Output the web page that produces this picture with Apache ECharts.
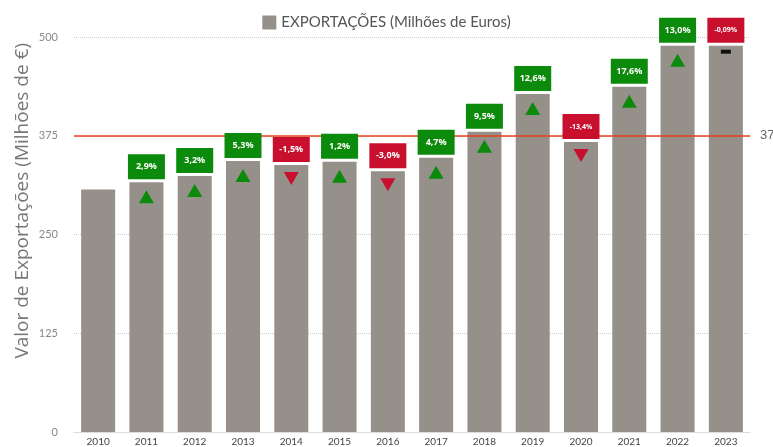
<!DOCTYPE html>
<html>
<head>
<meta charset="utf-8">
<script src="https://cdn.jsdelivr.net/npm/echarts@6/dist/echarts.min.js"></script>
<style>
  html, body { margin: 0; padding: 0; background: #fff; }
  #main { width: 773px; height: 447px; }
</style>
</head>
<body>
<div id="main"></div>
<script>
// data
var years = ['2010', '2011', '2012', '2013', '2014', '2015', '2016', '2017', '2018', '2019', '2020', '2021', '2022', '2023'];
var exportValues = [307, 316, 324, 343, 338, 342, 330, 347, 380, 428, 367, 437, 489, 489];
var changeLabels = ['', '2,9%', '3,2%', '5,3%', '-1,5%', '1,2%', '-3,0%', '4,7%', '9,5%', '12,6%', '-13,4%', '17,6%', '13,0%', '-0,09%'];
// 1 = up, -1 = down, 0 = flat
var changeDir = [0, 1, 1, 1, -1, 1, -1, 1, 1, 1, -1, 1, 1, 0];
var yTicks = [0, 125, 250, 375, 500];
var refLine = 375;

var GREEN = '#0b8a0b';
var RED = '#c8102e';

var myChart = echarts.init(document.getElementById('main'));

var badgeData = [];
for (var i = 1; i < years.length; i++) {
    badgeData.push([i, exportValues[i], changeLabels[i], changeDir[i]]);
}

function renderBadge(params, api) {
    var pt = api.coord([api.value(0), api.value(1)]);
    var x = pt[0], y = pt[1];
    var dir = api.value(3);
    var txt = api.value(2);
    var up = txt.charAt(0) != '-';
    var col = up ? GREEN : RED;
    var children = [
        {
            type: 'rect',
            shape: { x: x - 18.5, y: y - 28, width: 37, height: 25 },
            style: { fill: col }
        },
        {
            type: 'text',
            style: {
                x: x, y: y - 15.5,
                text: txt,
                fill: '#fff',
                font: 'bold ' + (txt.length > 5 ? 7 : 9) + 'px "Open Sans", sans-serif',
                align: 'center', verticalAlign: 'middle'
            }
        }
    ];
    if (dir == 1) {
        children.push({
            type: 'polygon',
            shape: { points: [[x, y + 8], [x - 7.5, y + 21], [x + 7.5, y + 21]] },
            style: { fill: GREEN }
        });
    } else if (dir == -1) {
        children.push({
            type: 'polygon',
            shape: { points: [[x - 7.5, y + 7], [x + 7.5, y + 7], [x, y + 20]] },
            style: { fill: RED }
        });
    } else {
        children.push({
            type: 'rect',
            shape: { x: x - 5, y: y + 4, width: 10, height: 4 },
            style: { fill: '#111' }
        });
    }
    return { type: 'group', children: children };
}

var option = {
    animation: false,
    legend: {
        top: 10,
        left: 'center',
        itemWidth: 14,
        itemHeight: 14,
        itemGap: 10,
        icon: 'rect',
        textStyle: { fontSize: 15, color: '#555', fontFamily: 'Lato, sans-serif' },
        data: ['EXPORTAÇÕES (Milhões de Euros)']
    },
    grid: { left: 74, right: 23, top: 37, bottom: 15 },
    graphic: [{
        type: 'text',
        left: 13,
        top: 43,
        rotation: Math.PI / 2,
        style: {
            text: 'Valor de Exportações (Milhões de €)',
            fill: '#777',
            font: '19px "Open Sans", sans-serif'
        }
    }],
    xAxis: {
        type: 'category',
        data: years,
        axisLine: { lineStyle: { color: '#ddd' } },
        axisTick: { show: false },
        axisLabel: { color: '#444', fontSize: 10, margin: 5, fontFamily: 'Lato, sans-serif' }
    },
    yAxis: {
        type: 'value',
        min: yTicks[0],
        max: yTicks[yTicks.length - 1],
        interval: yTicks[1] - yTicks[0],
        axisLine: { show: false },
        axisTick: { show: false },
        axisLabel: { color: '#888', fontSize: 11, margin: 16, fontFamily: 'Lato, sans-serif' },
        splitLine: { lineStyle: { color: '#ccc', type: 'dotted' } }
    },
    series: [
        {
            name: 'EXPORTAÇÕES (Milhões de Euros)',
            type: 'bar',
            barWidth: 34,
            data: exportValues,
            itemStyle: { color: '#959089' },
            markLine: {
                silent: true,
                symbol: 'none',
                lineStyle: { color: '#e5431a', type: 'solid', width: 1.5 },
                label: { position: 'end', color: '#666', fontSize: 13, distance: 10 },
                data: [{ yAxis: refLine }]
            }
        },
        {
            type: 'custom',
            renderItem: renderBadge,
            data: badgeData,
            z: 5
        }
    ]
};

myChart.setOption(option);
</script>
</body>
</html>
